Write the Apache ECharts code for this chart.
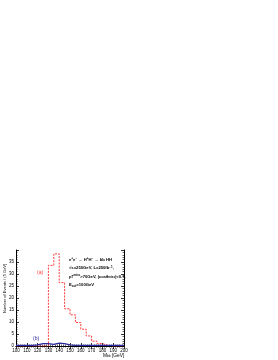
<!DOCTYPE html>
<html><head><meta charset="utf-8">
<script src="https://cdn.jsdelivr.net/npm/echarts@6/dist/echarts.min.js"></script>
<style>html,body{margin:0;padding:0;background:#fff}#c{width:278px;height:360px}</style>
</head><body><div id="c"></div>
<script>
var binLow = [100,105,110,115,120,125,130,135,140,145,150,155,160,165,170,175,180,185,190,195];
var binWidth = 5;
var signal = [0,0,0,0,0,0,33.6,38.4,26.4,15.5,13,9.8,7,4.2,2,1,0.3,0,0,0];
var background = [0.3,0.3,0.3,0.5,1.0,1.0,0.7,1.2,1.0,0.5,0.3,0.3,0.3,0.3,0.3,0.3,0.3,0.3,0.3,0.3];
var xTicks = [100,110,120,130,140,150,160,170,180,190,200];
var yTicks = [0,5,10,15,20,25,30,35];
var textLines = [
  'e{sup|+}e{sup|\u2212} \u2192 H{sup|+}H{sup|\u2212} \u2192 b\u0305b HH',
  '\u221As=250GeV, L=250fb{sup|\u22121},',
  'p{sub|T}{sup|miss}>70GeV, |cos\u03B8{sub|miss}|<0.7,',
  'E{sub|cut}=100GeV'
];

function steps(vals){
  var d = binLow.map(function(x,i){return [x, vals[i]];});
  d.push([binLow[binLow.length-1]+binWidth, vals[vals.length-1]]);
  return d;
}
var F = 'Liberation Sans';
var chart = echarts.init(document.getElementById('c'), null, {renderer:'canvas'});
var axisCommon = {
  axisLine:{show:true, lineStyle:{color:'#000', width:1}},
  axisTick:{show:true, inside:true, length:3, lineStyle:{color:'#000', width:0.8}},
  minorTick:{show:true, splitNumber:5, length:1.5, lineStyle:{color:'#000', width:0.6}},
  splitLine:{show:false}
};
var rich = {
  sup:{fontSize:3, fontFamily:F, fontWeight:'bold', verticalAlign:'top', lineHeight:5, padding:[0,0,2,0]},
  sub:{fontSize:3, fontFamily:F, fontWeight:'bold', verticalAlign:'bottom', lineHeight:5, padding:[2,0,0,0]}
};
function line(t, y){
  return {type:'text', x:69, y:y, style:{text:t, fontSize:4.2, fontFamily:F, fontWeight:'bold', fill:'#000', rich:rich}};
}
chart.setOption({
  animation:false,
  grid:{left:16, right:154, top:250, bottom:14},
  xAxis:[
    Object.assign({type:'value', min:100, max:200, interval:10, position:'bottom',
      axisLabel:{fontSize:4.5, fontFamily:F, color:'#000', margin:2,
        formatter:function(v){return xTicks.indexOf(v)>=0? String(v):'';}}}, axisCommon),
    Object.assign({type:'value', min:100, max:200, interval:10, position:'top',
      axisLabel:{show:false}}, axisCommon)
  ],
  yAxis:[
    Object.assign({type:'value', min:0, max:40, interval:5, position:'left',
      axisLabel:{fontSize:4.5, fontFamily:F, color:'#000', margin:2,
        formatter:function(v){return yTicks.indexOf(v)>=0? String(v):'';}}}, axisCommon),
    Object.assign({type:'value', min:0, max:40, interval:5, position:'right',
      axisLabel:{show:false}}, axisCommon)
  ],
  series:[
    {type:'line', step:'end', data:steps(signal), symbol:'none',
      lineStyle:{color:'#ff3b3b', width:1, type:[2,1.2]}, z:3},
    {type:'line', step:'end', data:steps(background), symbol:'none',
      lineStyle:{color:'#2a2aa0', width:1.2}, z:4}
  ],
  graphic:[
    {type:'text', x:3, y:313, rotation:Math.PI/2, style:{text:'Number of Events / (5 GeV)', font:'4px '+F, fill:'#000', align:'left', verticalAlign:'top'}},
    {type:'text', x:103, y:353, style:{text:'M{sub|bb} [GeV]', fontSize:4.8, fontFamily:F, fill:'#000', rich:{sub:{fontSize:3.3, fontFamily:F, verticalAlign:'bottom', padding:[2,0,0,0]}}}},
    {type:'text', x:37, y:270, style:{text:'(a)', font:'5px '+F, fill:'#ff3b3b'}},
    {type:'text', x:33, y:336, style:{text:'(b)', font:'5px '+F, fill:'#2a2aa0'}},
    line(textLines[0], 257),
    line(textLines[1], 265.5),
    line(textLines[2], 274),
    line(textLines[3], 282.5)
  ]
});
</script></body></html>
